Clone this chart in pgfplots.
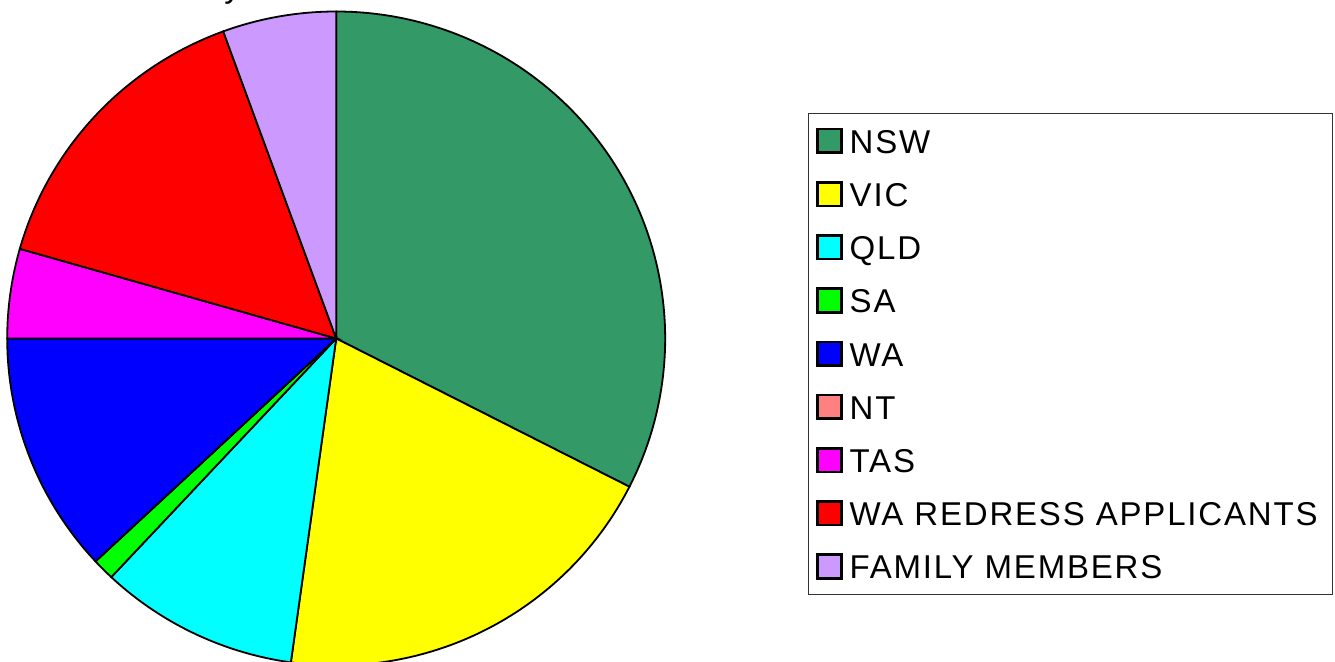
\documentclass[border=0pt]{standalone}
\usepackage{fontspec}
\setmainfont{Liberation Sans}
\usepackage{pgfplots}
\usepackage{pgfplotstable}
\pgfplotsset{compat=1.18}
\definecolor{cNSW}{RGB}{51,153,102}
\definecolor{cVIC}{RGB}{255,255,0}
\definecolor{cQLD}{RGB}{0,255,255}
\definecolor{cSA}{RGB}{0,255,0}
\definecolor{cWA}{RGB}{0,0,255}
\definecolor{cNT}{RGB}{255,128,128}
\definecolor{cTAS}{RGB}{255,0,255}
\definecolor{cRED}{RGB}{255,0,0}
\definecolor{cFAM}{RGB}{204,153,255}

\pgfplotstableread[col sep=comma]{
label,value,color
NSW,32.49,cNSW
VIC,19.71,cVIC
QLD,9.78,cQLD
SA,1.08,cSA
WA,11.94,cWA
NT,0,cNT
TAS,4.42,cTAS
WA REDRESS APPLICANTS,15.00,cRED
FAMILY MEMBERS,5.58,cFAM
}\piedata

\begin{document}
\begin{tikzpicture}
\useasboundingbox (0,0) rectangle (667.5pt,331pt);
\node[anchor=base west, font=\fontsize{16.5}{19}\selectfont, inner sep=0pt] at (112pt,332pt) {y};
\begin{axis}[
  at={(168.1pt,161.75pt)}, anchor=center,
  scale only axis, width=329pt, height=327pt,
  xmin=-1, xmax=1, ymin=-1, ymax=1,
  hide axis, clip=false,
  legend image code/.code={\draw[#1,line width=1.3pt] (0.6pt,-5.6pt) rectangle (12.4pt,6.2pt);},
  legend cell align=left,
  legend style={
    at={(axis description cs:1.217,0.8443)}, anchor=north west,
    draw=black!80, line width=0.5pt,
    font=\fontsize{16.5}{19}\selectfont\addfontfeatures{LetterSpace=5.5},
    inner xsep=4pt, inner ysep=0.5pt, row sep=0pt,
    nodes={inner xsep=3.5pt, inner ysep=0pt, text height=11.8pt, text depth=0pt, minimum height=26.6pt, anchor=west},
  },
]
\def\cum{0}
\pgfplotsforeachungrouped \i in {0,...,8}{%
  \pgfplotstablegetelem{\i}{value}\of\piedata \let\pv\pgfplotsretval
  \pgfplotstablegetelem{\i}{label}\of\piedata \let\lab\pgfplotsretval
  \pgfplotstablegetelem{\i}{color}\of\piedata \let\col\pgfplotsretval
  \pgfmathsetmacro\angA{90-3.6*\cum}%
  \pgfmathsetmacro\angB{90-3.6*(\cum+\pv)}%
  \pgfmathsetmacro\cum{\cum+\pv}%
  \ifdim\pv pt>0pt
    \edef\tmp{\noexpand\addplot[fill=\col, draw=black, line width=0.9pt, domain=\angB:\angA, samples=120] ({cos(x)},{sin(x)}) -- (axis cs:0,0) -- cycle; \noexpand\addlegendentry{\lab}}%
  \else
    \edef\tmp{\noexpand\addlegendimage{fill=\col, draw=black}\noexpand\addlegendentry{\lab}}%
  \fi
  \tmp
}
\end{axis}
\end{tikzpicture}
\end{document}
